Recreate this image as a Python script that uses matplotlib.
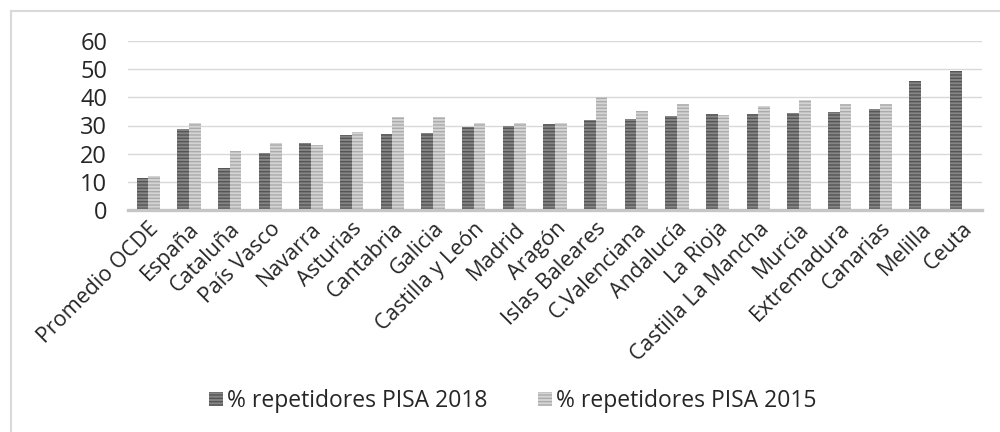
import numpy as np
import matplotlib.pyplot as plt
from matplotlib.patches import Patch
from matplotlib.lines import Line2D

plt.rcParams['font.family'] = ['Open Sans', 'DejaVu Sans']
plt.rcParams['hatch.linewidth'] = 1.0

regiones = ["Promedio OCDE", "España", "Cataluña", "País Vasco", "Navarra", "Asturias",
            "Cantabria", "Galicia", "Castilla y León", "Madrid", "Aragón", "Islas Baleares",
            "C.Valenciana", "Andalucía", "La Rioja", "Castilla La Mancha", "Murcia",
            "Extremadura", "Canarias", "Melilla", "Ceuta"]
rep_2018 = [11.3, 28.7, 15.0, 20.1, 23.9, 26.7, 27.0, 27.5, 29.4, 29.9, 30.4, 31.8,
            32.3, 33.4, 34.2, 34.2, 34.6, 34.8, 35.7, 45.9, 49.2]
rep_2015 = [12.0, 31.0, 20.9, 23.9, 23.0, 27.8, 33.0, 33.0, 31.0, 31.0, 31.0, 40.0,
            35.0, 37.8, 33.9, 37.1, 39.0, 37.8, 37.8, np.nan, np.nan]
label_2018 = "% repetidores PISA 2018"
label_2015 = "% repetidores PISA 2015"

fig = plt.figure(figsize=(10, 4.32), dpi=100)
ax = fig.add_axes([0.128, 1 - 210 / 432, 0.854, (210 - 41) / 432])

x = np.arange(len(regiones))
w = 0.29
ax.bar(x - w / 2, rep_2018, w, facecolor="#858585", edgecolor="#555555",
       hatch="-----", linewidth=0, zorder=3)
ax.bar(x + w / 2, rep_2015, w, facecolor="#d4d4d4", edgecolor="#ababab",
       hatch="-----", linewidth=0, zorder=3)

ax.set_xlim(-0.5, len(regiones) - 0.5)
ax.set_ylim(0, 60)
ax.set_yticks(range(0, 61, 10))
ax.yaxis.grid(True, color="#d9d9d9", linewidth=1.0, zorder=0)
ax.set_axisbelow(True)
for s in ["left", "right", "top"]:
    ax.spines[s].set_visible(False)
ax.spines["bottom"].set_color("#c6c6c6")
ax.spines["bottom"].set_linewidth(2.4)
ax.spines["bottom"].set_zorder(4)
ax.tick_params(axis="both", length=0)
ax.tick_params(axis="y", labelsize=17, pad=15, labelcolor="#262626")
ax.set_xticks(x)
ax.set_xticklabels(regiones, rotation=45, ha="right", va="top", rotation_mode="anchor",
                   fontsize=15.5, color="#262626")
ax.tick_params(axis="x", pad=6)

handles = [Patch(facecolor="#858585", edgecolor="#555555", hatch="-----", linewidth=0, label=label_2018),
           Patch(facecolor="#d4d4d4", edgecolor="#ababab", hatch="-----", linewidth=0, label=label_2015)]
fig.legend(handles=handles, loc="center", bbox_to_anchor=(0.513, 1 - 401 / 432), ncol=2,
           frameon=False, fontsize=16.5, handlelength=0.6, handleheight=0.6,
           handletextpad=0.2, columnspacing=2.2, labelcolor="#262626")

fig.add_artist(Line2D([0.0105, 0.0105], [0, 1 - 11 / 432], color="#d9d9d9", linewidth=1.5))
fig.add_artist(Line2D([0.0105, 1], [1 - 11 / 432, 1 - 11 / 432], color="#d9d9d9", linewidth=1.5))

fig.savefig("out.png", dpi=100)
